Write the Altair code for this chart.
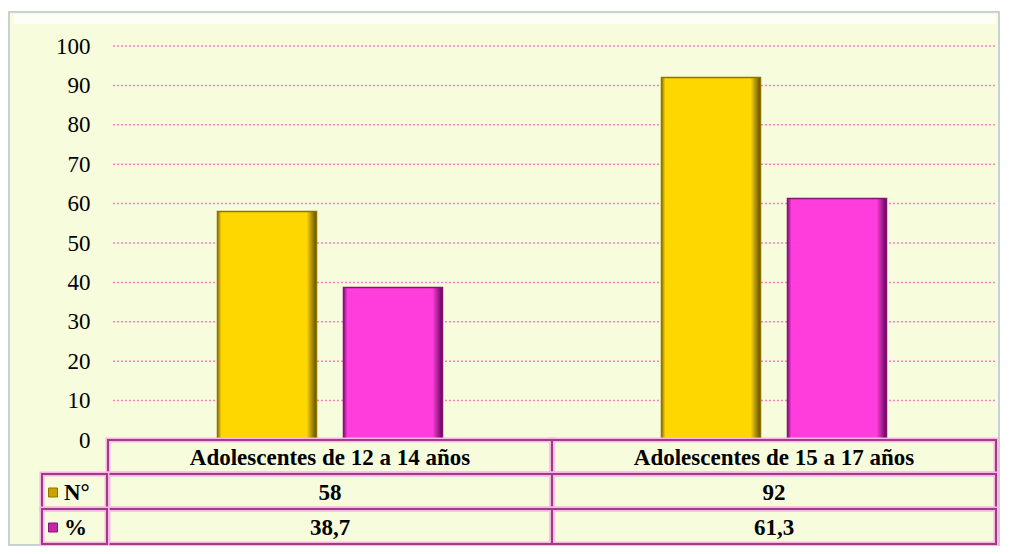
import altair as alt
import pandas as pd

groups = ["Adolescentes de 12 a 14 años", "Adolescentes de 15 a 17 años"]
series = ["N°", "%"]
n_values = [58, 92]
pct_values = [38.7, 61.3]
pct_labels = ["38,7", "61,3"]
y_ticks = [0, 10, 20, 30, 40, 50, 60, 70, 80, 90, 100]

fill_colors = ["#FFD700", "#FF3CDC"]
dark_colors = ["#5E4C00", "#5C0852"]
edge_colors = ["#8F7400", "#86127A"]
key_colors = ["#C9A400", "#C42AA8"]

W, H = 888, 394
TOP = 38
FONT = "Liberation Serif"
BORDER = "#A03C84"
GLOW = "#F6B6E8"

bars = pd.DataFrame({
    "group": [g for g in groups for _ in series],
    "serie": series * len(groups),
    "value": [v for pair in zip(n_values, pct_values) for v in pair],
})
table = pd.DataFrame({"group": groups, "n": [str(v) for v in n_values], "pct": pct_labels})
keys = pd.DataFrame({"serie": series})

xscale = alt.Scale(domain=groups, paddingInner=0, paddingOuter=0)
yscale = alt.Scale(domain=[0, 100])
xoff_scale = alt.Scale(domain=series, paddingInner=0.214, paddingOuter=0.869)
yaxis = alt.Axis(values=y_ticks, ticks=False, domain=False, grid=False, zindex=1,
                 labelOverlap=False, labelFont=FONT, labelFontSize=23,
                 labelColor="black", labelPadding=18, title=None)

rows = [(H, H + 34), (H + 34, H + 69), (H + 69, H + 104)]

frame = alt.Chart(keys).mark_rect(fill="#F7FDDC", stroke="#C9D2D2", strokeWidth=2).encode(
    x=alt.value(-99), x2=alt.value(W + 3), y=alt.value(-TOP + 4), y2=alt.value(H + 105)
).transform_filter(alt.datum.serie == "N°")

bevel = alt.Chart(keys).mark_rect(fill="white", opacity=0.75).encode(
    x=alt.value(-94), x2=alt.value(W), y=alt.value(-TOP + 6), y2=alt.value(-TOP + 16)
).transform_filter(alt.datum.serie == "N°")

grid = alt.Chart(pd.DataFrame({"t": y_ticks})).mark_rule(
    color="#FF80C8", strokeDash=[2, 2], strokeWidth=1.5
).encode(
    y=alt.Y("t:Q", scale=yscale, axis=yaxis),
    x=alt.value(5), x2=alt.value(W),
)

bar_layers = []
for i, s in enumerate(series):
    grad = alt.Gradient(
        gradient="linear", x1=0, x2=1, y1=0, y2=0,
        stops=[
            alt.GradientStop(offset=0, color=edge_colors[i]),
            alt.GradientStop(offset=0.04, color=fill_colors[i]),
            alt.GradientStop(offset=0.9, color=fill_colors[i]),
            alt.GradientStop(offset=1, color=dark_colors[i]),
        ],
    )
    bar_layers.append(
        alt.Chart(bars).mark_bar(fill=grad, stroke=edge_colors[i], strokeWidth=1.5).encode(
            x=alt.X("group:N", scale=xscale, axis=None, sort=groups),
            xOffset=alt.XOffset("serie:N", sort=series, scale=xoff_scale),
            y=alt.Y("value:Q", scale=yscale, axis=yaxis),
        ).transform_filter(alt.datum.serie == s)
    )

cell_layers = []
for (y0, y1) in rows:
    for sw, col in [(5, GLOW), (2, BORDER)]:
        cell_layers.append(
            alt.Chart(table).mark_rect(fillOpacity=0, stroke=col, strokeWidth=sw).encode(
                x=alt.X("group:N", scale=xscale, axis=None, sort=groups),
                y=alt.value(y0), y2=alt.value(y1),
            )
        )
for (y0, y1) in rows[1:]:
    for sw, col in [(5, GLOW), (2, BORDER)]:
        cell_layers.append(
            alt.Chart(keys).mark_rect(fillOpacity=0, stroke=col, strokeWidth=sw).encode(
                x=alt.value(-66), x2=alt.value(-1), y=alt.value(y0), y2=alt.value(y1),
            ).transform_filter(alt.datum.serie == "N°")
        )

txt = dict(font=FONT, fontSize=23, fontWeight="bold", color="black", baseline="middle")
centers = [(a + b) / 2 + 1 for a, b in rows]
header = alt.Chart(table).mark_text(**txt).encode(
    x=alt.X("group:N", scale=xscale, axis=None, sort=groups),
    y=alt.value(centers[0]), text="group:N")
nrow = alt.Chart(table).mark_text(**txt).encode(
    x=alt.X("group:N", scale=xscale, axis=None, sort=groups),
    y=alt.value(centers[1]), text="n:N")
prow = alt.Chart(table).mark_text(**txt).encode(
    x=alt.X("group:N", scale=xscale, axis=None, sort=groups),
    y=alt.value(centers[2]), text="pct:N")

key_layers = []
for i, s in enumerate(series):
    yc = centers[1 + i]
    key_layers.append(
        alt.Chart(keys).mark_square(size=81, fill=key_colors[i], stroke=edge_colors[i], strokeWidth=1, opacity=1).encode(
            x=alt.value(-55), y=alt.value(yc)
        ).transform_filter(alt.datum.serie == s)
    )
    key_layers.append(
        alt.Chart(keys).mark_text(align="left", **txt).encode(
            x=alt.value(-44), y=alt.value(yc), text="serie:N"
        ).transform_filter(alt.datum.serie == s)
    )

chart = alt.layer(frame, bevel, grid, *bar_layers, *cell_layers, header, nrow, prow, *key_layers).properties(
    width=W, height=H,
    autosize=alt.AutoSizeParams(type="none"),
    padding={"left": 100, "top": TOP, "right": 5, "bottom": 106},
    background="white",
).configure_view(stroke=None)

chart.save("out.html", embed_options={"renderer": "svg", "actions": False})
